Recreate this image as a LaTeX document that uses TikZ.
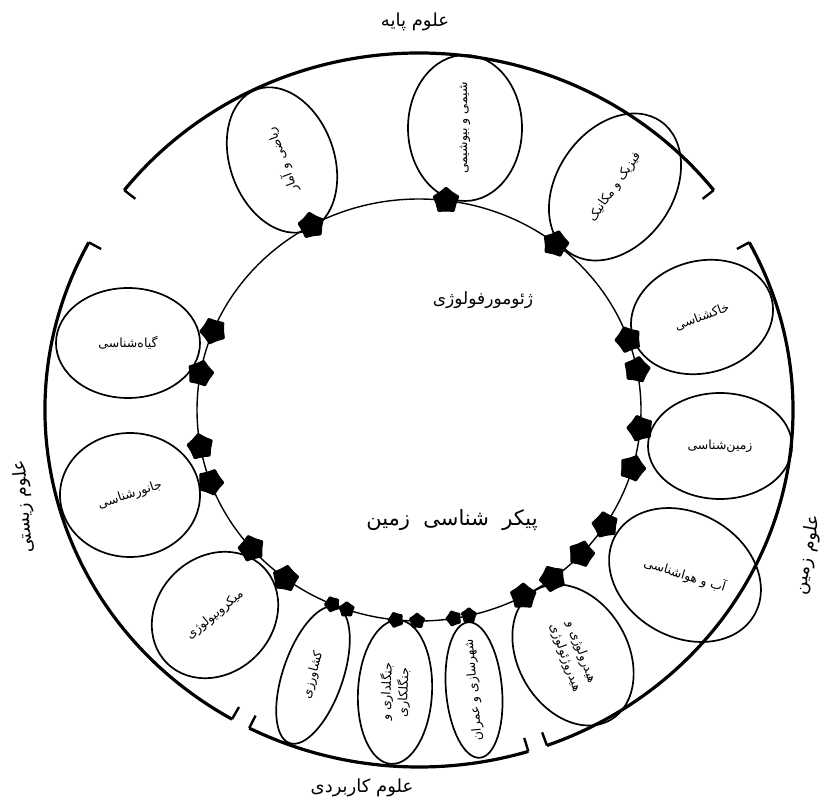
\documentclass[tikz,border=0pt]{standalone}
\usepackage{fontspec}
\newfontfamily\fa[Script=Arabic]{DejaVu Sans}
\TeXXeTstate=1
\usetikzlibrary{shapes.geometric}
\begin{document}
\begin{tikzpicture}[x=1pt,y=1pt,
  sat/.style={draw, ellipse, line width=1.7pt, inner sep=0pt},
  lab/.style={font=\fa\fontsize{12.5}{17}\selectfont, align=center, inner sep=1pt},
  biglab/.style={font=\fa\fontsize{18}{21}\selectfont, inner sep=1pt},
  blob/.style={star, star points=5, star point ratio=1.3, fill=black, draw=black, line width=1pt, rounded corners=0.8pt, inner sep=0pt, minimum size=27pt},
  sblob/.style={blob, minimum size=16pt},
  outerarc/.style={line width=3.2pt},
  tickmark/.style={line width=2.4pt}]
\useasboundingbox (0,0) rectangle (829,806);
\coordinate (C) at (419,396);
% outer bracket arcs
\draw[outerarc] (C) ++(38:374pt and 357pt) arc[start angle=38, end angle=142, x radius=374pt, y radius=357pt];
\draw[outerarc] (C) ++(152:374pt and 357pt) arc[start angle=152, end angle=240, x radius=374pt, y radius=357pt];
\draw[outerarc] (C) ++(243:374pt and 357pt) arc[start angle=243, end angle=287, x radius=374pt, y radius=357pt];
\draw[outerarc] (C) ++(290:374pt and 357pt) arc[start angle=290, end angle=388, x radius=374pt, y radius=357pt];
\foreach \a in {38,142,152,240,243,287,290,28}
  \draw[tickmark] (C) ++(\a:374pt and 357pt) -- ++(\a+180:14pt);
% inner circle
\node[draw, ellipse, line width=1.4pt, minimum width=444pt, minimum height=422pt, inner sep=0pt] (inner) at (C) {};
% satellite ellipses
\node[sat, minimum width=150pt, minimum height=104pt, rotate=110] (e1) at (282,646) {};
\node[sat, minimum width=146pt, minimum height=114pt, rotate=90] (e2) at (465,678) {};
\node[sat, minimum width=160pt, minimum height=116pt, rotate=55] (e3) at (615,619) {};
\node[sat, minimum width=144pt, minimum height=112pt, rotate=15] (e4) at (702,489) {};
\node[sat, minimum width=144pt, minimum height=106pt, rotate=0] (e5) at (720,360) {};
\node[sat, minimum width=160pt, minimum height=124pt, rotate=-30] (e6) at (685,231) {};
\node[sat, minimum width=150pt, minimum height=110pt, rotate=-60] (e7) at (573,151) {};
\node[sat, minimum width=136pt, minimum height=56pt, rotate=95] (e8) at (474,116) {};
\node[sat, minimum width=144pt, minimum height=74pt, rotate=87] (e9) at (395,114) {};
\node[sat, minimum width=144pt, minimum height=60pt, rotate=71] (e10) at (313,131) {};
\node[sat, minimum width=136pt, minimum height=116pt, rotate=45] (e11) at (215,191) {};
\node[sat, minimum width=140pt, minimum height=124pt, rotate=0] (e12) at (130,311) {};
\node[sat, minimum width=144pt, minimum height=110pt, rotate=0] (e13) at (128,463) {};
% labels of ellipses
\node[lab, rotate=110] (t1) at (e1.center) {\beginR ریاضی و آمار\endR};
\node[lab, rotate=90] (t2) at (e2.center) {\beginR شیمی و بیوشیمی\endR};
\node[lab, rotate=55] (t3) at (e3.center) {\beginR فیزیک و مکانیک\endR};
\node[lab, rotate=20] (t4) at (e4.center) {\beginR خاکشناسی\endR};
\node[lab, rotate=0] (t5) at (e5.center) {\beginR زمین‌شناسی\endR};
\node[lab, rotate=-17] (t6) at (e6.center) {\beginR آب و هواشناسی\endR};
\node[lab, rotate=-70] (t7) at (e7.center) {\beginR هیدرولوژی و\endR\\\beginR هیدروژئولوژی\endR};
\node[lab, rotate=95] (t8) at (e8.center) {\beginR شهرسازی و عمران\endR};
\node[lab, rotate=87] (t9) at (e9.center) {\beginR جنگلداری و\endR\\\beginR جنگلکاری\endR};
\node[lab, rotate=75] (t10) at (e10.center) {\beginR کشاورزی\endR};
\node[lab, rotate=40] (t11) at (e11.center) {\beginR میکروبیولوژی\endR};
\node[lab, rotate=18] (t12) at (e12.center) {\beginR جانورشناسی\endR};
\node[lab, rotate=0] (t13) at (e13.center) {\beginR گیاه‌شناسی\endR};
% contact blobs on the inner circle
\path (C) ++(119:222pt and 211pt) node[blob, rotate=10] (b1) {};
\path (C) ++(83:222pt and 211pt) node[blob] (b2) {};
\path (C) ++(52:222pt and 211pt) node[blob, rotate=-15] (b3) {};
\path (C) ++(19.5:222pt and 211pt) node[blob, rotate=20] (b4) {};
\path (C) ++(11:222pt and 211pt) node[blob, rotate=-10] (b5) {};
\path (C) ++(-5:222pt and 211pt) node[blob, rotate=15] (b6) {};
\path (C) ++(-16:222pt and 211pt) node[blob, rotate=-20] (b7) {};
\path (C) ++(-33:222pt and 211pt) node[blob, rotate=10] (b8) {};
\path (C) ++(-43:222pt and 211pt) node[blob, rotate=-15] (b9) {};
\path (C) ++(-53:222pt and 211pt) node[blob, rotate=25] (b10) {};
\path (C) ++(-62:222pt and 211pt) node[blob] (b11) {};
\path (C) ++(-77:222pt and 211pt) node[sblob] (b12) {};
\path (C) ++(-81:222pt and 211pt) node[sblob, rotate=20] (b13) {};
\path (C) ++(-90.5:222pt and 211pt) node[sblob] (b14) {};
\path (C) ++(-96:222pt and 211pt) node[sblob, rotate=20] (b15) {};
\path (C) ++(-109:222pt and 211pt) node[sblob] (b16) {};
\path (C) ++(-113:222pt and 211pt) node[sblob, rotate=20] (b17) {};
\path (C) ++(233:222pt and 211pt) node[blob, rotate=-10] (b18) {};
\path (C) ++(221:222pt and 211pt) node[blob, rotate=15] (b19) {};
\path (C) ++(200:222pt and 211pt) node[blob, rotate=-20] (b20) {};
\path (C) ++(190:222pt and 211pt) node[blob, rotate=10] (b21) {};
\path (C) ++(170:222pt and 211pt) node[blob, rotate=-15] (b22) {};
\path (C) ++(158:222pt and 211pt) node[blob, rotate=20] (b23) {};
% centre texts
\node[font=\fa\fontsize{17}{20}\selectfont] (geo) at (483,506) {\beginR ژئومورفولوژی\endR};
\node[font=\fa\fontsize{21}{24}\selectfont] (morph) at (452,286) {\beginR پیکر\ \ شناسی\ \ زمین\endR};
% group labels
\node[biglab] (top) at (415,784) {\beginR علوم پایه\endR};
\node[biglab] (bottom) at (362,18) {\beginR علوم کاربردی\endR};
\node[biglab, rotate=95] (left) at (24,299) {\beginR علوم زیستی\endR};
\node[biglab, rotate=80] (right) at (808,251) {\beginR علوم زمین\endR};
\end{tikzpicture}
\end{document}
